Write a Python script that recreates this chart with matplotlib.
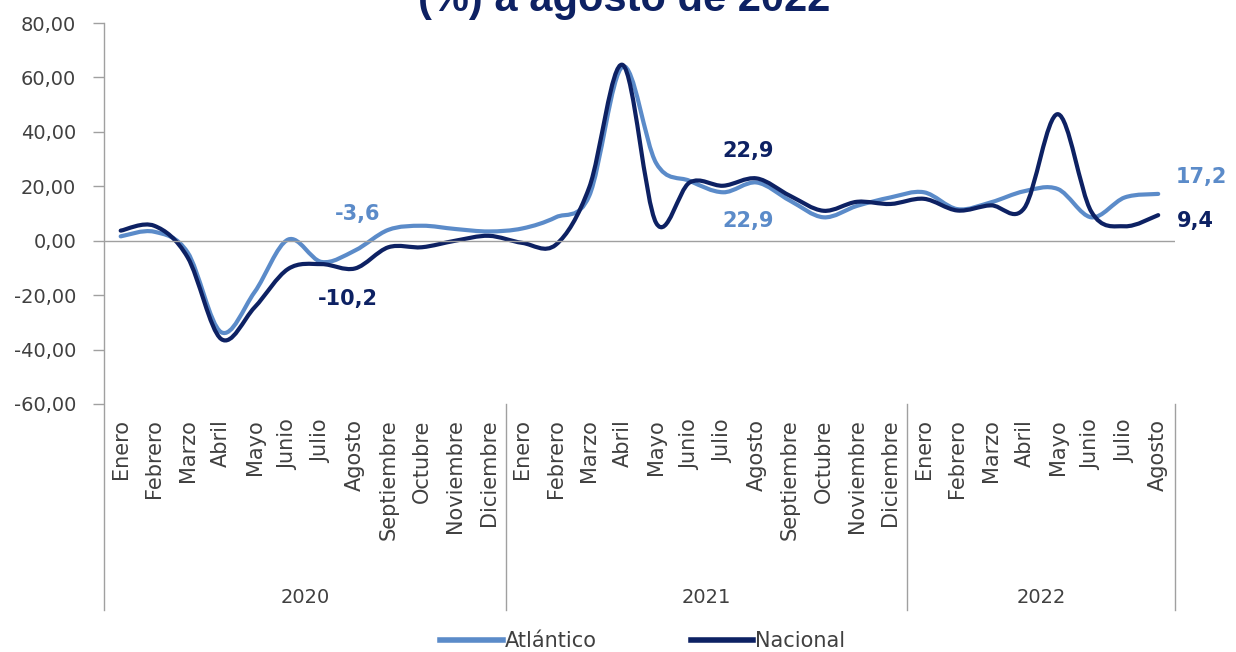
import numpy as np
import matplotlib.pyplot as plt
from matplotlib.path import Path
from matplotlib.patches import PathPatch
from matplotlib.lines import Line2D

meses = ['Enero', 'Febrero', 'Marzo', 'Abril', 'Mayo', 'Junio', 'Julio', 'Agosto',
         'Septiembre', 'Octubre', 'Noviembre', 'Diciembre']
etiquetas = meses * 2 + meses[:8]
anios = ['2020', '2021', '2022']
meses_por_anio = [12, 12, 8]

atlantico = [1.6, 3.3, -4.3, -33.6, -18.9, 0.4, -7.8, -3.6, 4.0, 5.5, 4.3, 3.4,
             4.5, 8.6, 16.5, 64.0, 28.5, 22.0, 17.8, 21.4, 14.7, 8.6, 12.8, 15.9,
             17.8, 11.6, 14.1, 18.2, 19.0, 8.6, 15.9, 17.2]
nacional = [3.7, 5.5, -6.1, -36.1, -24.5, -10.4, -8.6, -10.2, -2.4, -2.4, 0.0, 1.8,
            -0.8, -1.5, 19.6, 64.6, 6.5, 21.4, 20.2, 22.9, 16.5, 11.0, 14.3, 13.5,
            15.4, 11.1, 13.0, 12.0, 46.5, 10.7, 5.3, 9.4]

c_atl = '#5b8bc9'
c_nac = '#0d2163'
gris = '#404040'


def curva(x, y):
    # linea suavizada tipo Excel (Catmull-Rom -> Bezier)
    p = np.column_stack([x, y]).astype(float)
    p = np.vstack([p[0], p, p[-1]])
    verts = [p[1]]
    codes = [Path.MOVETO]
    for i in range(1, len(p) - 2):
        c1 = p[i] + (p[i + 1] - p[i - 1]) / 6
        c2 = p[i + 1] - (p[i + 2] - p[i]) / 6
        verts += [c1, c2, p[i + 1]]
        codes += [Path.CURVE4] * 3
    return Path(verts, codes)


fig = plt.figure(figsize=(12.36, 6.52), dpi=100)
ax = fig.add_axes([0.0841, 0.3804, 0.8665, 0.5843])

x = np.arange(len(etiquetas))
for serie, col in [(atlantico, c_atl), (nacional, c_nac)]:
    ax.add_patch(PathPatch(curva(x, serie), facecolor='none', edgecolor=col,
                           lw=3, capstyle='round', joinstyle='round'))

ax.set_xlim(-0.5, len(etiquetas) - 0.5)
ax.set_ylim(-60, 80)
ax.set_yticks(np.arange(-60, 81, 20))
ax.set_yticklabels([f'{v:.2f}'.replace('.', ',') for v in np.arange(-60, 81, 20)],
                   fontsize=14, color=gris)
ax.tick_params(axis='y', length=8, color='#a0a0a0', width=1, pad=12)
ax.set_xticks(x)
ax.set_xticklabels(etiquetas, rotation=90, fontsize=15, color=gris, va='top')
ax.tick_params(axis='x', length=0, pad=11)
for s in ax.spines.values():
    s.set_visible(False)
ax.axhline(0, color='#a0a0a0', lw=1)

# eje izquierdo y separadores de anios
ax.axvline(-0.5, ymin=-0.54, ymax=1, color='#a0a0a0', lw=1, clip_on=False)
pos = -0.5
for n, a in zip(meses_por_anio, anios):
    ax.axvline(pos + n, ymin=-0.54, ymax=0, color='#a0a0a0', lw=1, clip_on=False)
    ax.text(pos + n / 2, -0.508, a, transform=ax.get_xaxis_transform(),
            ha='center', va='center', fontsize=14, color=gris)
    pos += n

# etiquetas de datos
kw = dict(textcoords='offset points', ha='center', va='center',
          fontsize=15, fontweight='bold')
ax.annotate('-3,6', (7, atlantico[7]), xytext=(2, 26), color=c_atl, **kw)
ax.annotate('-10,2', (7, nacional[7]), xytext=(-5, -22), color=c_nac, **kw)
ax.annotate('22,9', (19, nacional[19]), xytext=(-6, 20), color=c_nac, **kw)
ax.annotate('22,9', (19, atlantico[19]), xytext=(-6, -28), color=c_atl, **kw)
ax.annotate('17,2', (31, atlantico[31]), xytext=(31, 12), color=c_atl, **kw)
ax.annotate('9,4', (31, nacional[31]), xytext=(27, -4), color=c_nac, **kw)

fig.text(0.505, 1 - 11 / 652, '(%) a agosto de 2022', ha='center', va='baseline',
         fontsize=30, fontweight='bold', color=c_nac, family='Liberation Sans')

handles = [Line2D([], [], color=c_atl, lw=4), Line2D([], [], color=c_nac, lw=4)]
fig.legend(handles, ['Atlántico', 'Nacional'], loc='center', bbox_to_anchor=(0.52, 1 - 641 / 652),
           ncol=2, frameon=False, fontsize=15, handlelength=3.0, handletextpad=0.1,
           columnspacing=4.5, labelcolor=gris)

fig.savefig('out.png', dpi=100)
